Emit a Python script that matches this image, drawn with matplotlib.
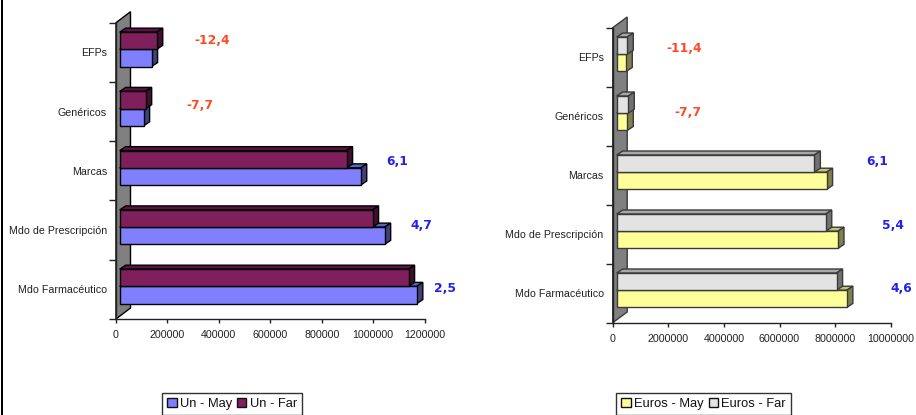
import matplotlib
matplotlib.use('Agg')
import matplotlib.pyplot as plt
from matplotlib.patches import Polygon, Patch, Rectangle

plt.rcParams['font.family'] = ['Liberation Sans', 'DejaVu Sans']

W = 916
H = 415

categories = ['Mdo Farmacéutico', 'Mdo de Prescripción', 'Marcas', 'Genéricos', 'EFPs']

un_may = [1155000, 1030000, 937000, 93000, 124000]
un_far = [1123000, 983000, 882000, 101000, 144000]
un_ticks = [0, 200000, 400000, 600000, 800000, 1000000, 1200000]
un_labels = ['2,5', '4,7', '6,1', '-7,7', '-12,4']

eur_may = [8280000, 7960000, 7550000, 381000, 345000]
eur_far = [7910000, 7520000, 7110000, 417000, 381000]
eur_ticks = [0, 2000000, 4000000, 6000000, 8000000, 10000000]
eur_labels = ['4,6', '5,4', '6,1', '-7,7', '-11,4']

# posiciones de las etiquetas en pixeles (centro)
un_label_px = [(445, 289), (421, 225), (397, 161), (200, 105), (212, 41)]
eur_label_px = [(901, 289), (893, 225), (877, 161), (688, 113), (684, 49)]

BLUE = '#2222e6'
RED = '#ff4a26'


def bar3d(ax, y, val, h, x0, sx, sy, front, top, side, edge):
    dx = 6 * sx
    dy = 4 * sy
    ax.barh(y, val, height=h, left=x0, align='edge', color=front,
            edgecolor=edge, linewidth=1, zorder=5)
    x1 = x0 + val
    y1 = y + h
    ax.add_patch(Polygon([(x0, y1), (x1, y1), (x1 + dx, y1 + dy), (x0 + dx, y1 + dy)],
                         facecolor=top, edgecolor=edge, linewidth=1, zorder=4,
                         clip_on=False))
    ax.add_patch(Polygon([(x1, y), (x1 + dx, y + dy), (x1 + dx, y1 + dy), (x1, y1)],
                         facecolor=side, edgecolor=edge, linewidth=1, zorder=4,
                         clip_on=False))


def chart(box, wall_px, start_px, may, far, ticks, labels, label_px, colors, edge, names, leg_x, gap):
    left, right, ybot, ytop = box
    ax = fig.add_axes([left / W, 1 - ybot / H, (right - left) / W, (ybot - ytop) / H])
    xmax = ticks[-1]
    ax.set_xlim(0, xmax)
    ax.set_ylim(0, 5)
    sx = xmax / (right - left)
    sy = 5 / (ybot - ytop)

    # pared gris del fondo
    wx = wall_px[0] * sx
    wy = wall_px[1] * sy
    ax.add_patch(Polygon([(0, 0), (0, 5), (wx, 5 + wy), (wx, wy)], facecolor='#808080',
                         edgecolor=edge, linewidth=1, zorder=1, clip_on=False))

    x0 = start_px * sx
    h = 17.2 * sy
    shift = 3 * sy
    for i in range(len(categories)):
        c = i + 0.5 + shift
        bar3d(ax, c - h, may[i], h, x0, sx, sy, *colors[0], edge)
        bar3d(ax, c, far[i], h, x0, sx, sy, *colors[1], edge)

    for s in ['top', 'right']:
        ax.spines[s].set_visible(False)
    for s in ['left', 'bottom']:
        ax.spines[s].set_color('#222222')
        ax.spines[s].set_linewidth(1)
        ax.spines[s].set_zorder(3)
    ax.patch.set_alpha(0)

    ax.set_xticks(ticks)
    ax.set_xticklabels([str(t) for t in ticks], fontsize=7.7, color='#222222')
    ax.tick_params(axis='x', length=3, width=1, color='#222222', pad=5)
    ax.set_yticks(range(6))
    ax.set_yticklabels([])
    ax.tick_params(axis='y', which='major', length=5, width=1, color='#222222')
    ax.set_yticks([i + 0.5 for i in range(5)], minor=True)
    ax.set_yticklabels(categories, minor=True, fontsize=7.7, color='#222222')
    ax.tick_params(axis='y', which='minor', length=0, pad=6.5)

    for lab, (px, py) in zip(labels, label_px):
        fig.text(px / W, 1 - py / H, lab, color=BLUE if lab[0] != '-' else RED,
                 fontsize=8.8, fontweight='bold', family='DejaVu Sans',
                 ha='center', va='center')

    handles = [Patch(facecolor=colors[0][0], edgecolor='#111111', linewidth=1),
               Patch(facecolor=colors[1][0], edgecolor='#111111', linewidth=1)]
    leg = fig.legend(handles, names, ncol=2, loc='upper left',
                     bbox_to_anchor=(leg_x / W, 1 - 393 / H), fontsize=9.3,
                     frameon=True, fancybox=False, edgecolor='#333333', framealpha=1,
                     borderpad=0.4, handlelength=0.7, handleheight=0.7,
                     handletextpad=0.3, columnspacing=0.35, borderaxespad=0)
    leg.get_frame().set_linewidth(1)
    for t in leg.get_texts():
        t.set_color('#111111')
    return ax


fig = plt.figure(figsize=(W / 100, H / 100), dpi=100, facecolor='white')

# borde negro de la izquierda
fig.add_artist(Rectangle((1 / W, 0), 2.2 / W, 1, transform=fig.transFigure,
                         facecolor='black', edgecolor='none'))

un_colors = [('#8080ff', '#5566c4', '#40407f'), ('#7f1f5c', '#5a1242', '#3f0f2f')]
eur_colors = [('#ffff99', '#c4c46e', '#80804c'), ('#e3e3e3', '#a8a8a8', '#717171')]

chart((116, 424.7, 319, 22.7), (14.5, 11), 3.7, un_may, un_far, un_ticks, un_labels,
      un_label_px, un_colors, '#000000', ['Un - May', 'Un - Far'], 162.3, 0.35)
chart((612.7, 890.7, 322.7, 27.7), (14.5, 10.7), 4, eur_may, eur_far, eur_ticks, eur_labels,
      eur_label_px, eur_colors, '#3a3a3a', ['Euros - May', 'Euros - Far'], 616.3, 0.35)

fig.savefig('out.png', dpi=100)
